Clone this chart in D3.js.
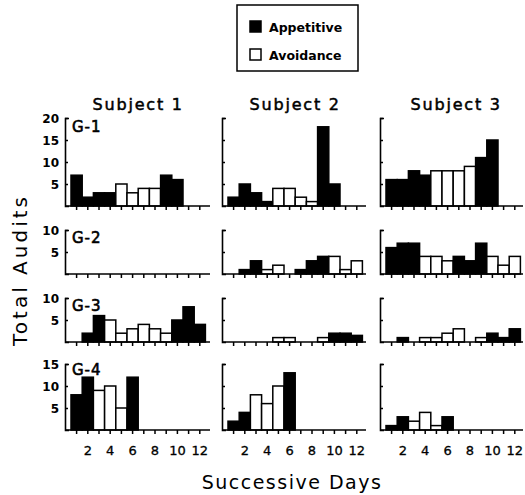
<!DOCTYPE html>
<html>
<head>
<meta charset="utf-8">
<script src="https://cdn.jsdelivr.net/npm/d3@7"></script>
<style>
  body { margin: 0; background: #fff; }
  text { font-family: "DejaVu Sans", sans-serif; fill: #000; }
</style>
</head>
<body>
<div id="chart"></div>
<script>
(function () {

    // categories
    const days = [1, 2, 3, 4, 5, 6, 7, 8, 9, 10, 11, 12];
    const subjects = ['Subject 1', 'Subject 2', 'Subject 3'];
    const groups = ['G-1', 'G-2', 'G-3', 'G-4'];
    const groupMax = [20, 10, 10, 15];
    const groupTicks = [[5, 10, 15, 20], [5, 10], [5, 10], [5, 10, 15]];
    const xTickLabels = [2, 4, 6, 8, 10, 12];

    // total audits per day, A = appetitive, V = avoidance, - = none
    const g1s1 = [7, 2, 3, 3, 5, 3, 4, 4, 7, 6, 0, 0];
    const g1s1Type = 'AAAAVVVVAA--';
    const g1s2 = [2, 5, 3, 1, 4, 4, 2, 1, 18, 5, 0, 0];
    const g1s2Type = 'AAAAVVVVAA--';
    const g1s3 = [6, 6, 8, 7, 8, 8, 8, 9, 11, 15, 0, 0];
    const g1s3Type = 'AAAAVVVVAA--';

    const g2s1 = [0, 0, 0, 0, 0, 0, 0, 0, 0, 0, 0, 0];
    const g2s1Type = '------------';
    const g2s2 = [0, 1, 3, 1, 2, 0, 1, 3, 4, 4, 1, 3];
    const g2s2Type = '-AAVV-AAAVVV';
    const g2s3 = [6, 7, 7, 4, 4, 3, 4, 3, 7, 4, 2, 4];
    const g2s3Type = 'AAAVVVAAAVVV';

    const g3s1 = [0, 2, 6, 5, 2, 3, 4, 3, 2, 5, 8, 4];
    const g3s1Type = '-AAVVVVVVAAA';
    const g3s2 = [0, 0, 0, 0, 1, 1, 0, 0, 1, 2, 2, 1.5];
    const g3s2Type = '----VV--VAAA';
    const g3s3 = [0, 1, 0, 1, 1, 2, 3, 0, 1, 2, 1, 3];
    const g3s3Type = '-A-VVVV-VAAA';

    const g4s1 = [8, 12, 9, 10, 5, 12, 0, 0, 0, 0, 0, 0];
    const g4s1Type = 'AAVVVA------';
    const g4s2 = [2, 4, 8, 6, 10, 13, 0, 0, 0, 0, 0, 0];
    const g4s2Type = 'AAVVVA------';
    const g4s3 = [1, 3, 2, 4, 1, 3, 0, 0, 0, 0, 0, 0];
    const g4s3Type = 'AAVVVA------';

    const panels = [
        [[g1s1, g1s1Type], [g1s2, g1s2Type], [g1s3, g1s3Type]],
        [[g2s1, g2s1Type], [g2s2, g2s2Type], [g2s3, g2s3Type]],
        [[g3s1, g3s1Type], [g3s2, g3s2Type], [g3s3, g3s3Type]],
        [[g4s1, g4s1Type], [g4s2, g4s2Type], [g4s3, g4s3Type]]
    ];

    // layout
    const colAxisX = [65, 222, 380];
    const colAxisEnd = [210, 366, 523];
    const rowBase = [206, 274, 342, 430];
    const labelDrop = [14, 13, 13, 11];
    const unit = 4.4;
    const dayW = 11.2;

    const svg = d3.select('#chart')
        .append('svg')
        .attr('width', 525)
        .attr('height', 495);

    // legend
    const legend = svg.append('g');
    legend.append('rect')
        .attr('x', 237).attr('y', 5)
        .attr('width', 121).attr('height', 66)
        .attr('fill', 'none').attr('stroke', '#000').attr('stroke-width', 1.5);
    [['Appetitive', '#000', 27], ['Avoidance', '#fff', 55]].forEach(l => {
        legend.append('rect')
            .attr('x', 250).attr('y', l[2] - 6)
            .attr('width', 11).attr('height', 11)
            .attr('fill', l[1]).attr('stroke', '#000').attr('stroke-width', 1.5);
        legend.append('text')
            .attr('x', 269).attr('y', l[2] + 5)
            .style('font-size', '12.5px').style('font-weight', 'bold')
            .text(l[0]);
    });

    // subject titles
    svg.selectAll('.subj')
        .data(subjects)
        .enter()
        .append('text')
        .attr('class', 'subj')
        .attr('x', (d, i) => colAxisX[i] + 6 + dayW * 6 + (i === 2 ? 3 : 0))
        .attr('y', 110)
        .attr('text-anchor', 'middle')
        .style('font-size', '16px')
        .style('letter-spacing', '1.8px')
        .attr('stroke', '#000').attr('stroke-width', 0.5)
        .text(d => d);

    // axis titles
    svg.append('text')
        .attr('transform', 'translate(27, 270) rotate(-90)')
        .attr('text-anchor', 'middle')
        .style('font-size', '20px')
        .style('letter-spacing', '3px')
        .text('Total Audits');

    svg.append('text')
        .attr('x', 292).attr('y', 489)
        .attr('text-anchor', 'middle')
        .style('font-size', '19px')
        .style('letter-spacing', '1.5px')
        .text('Successive Days');

    groups.forEach((gName, r) => {
        const base = rowBase[r];
        const y = d3.scaleLinear()
            .domain([0, groupMax[r]])
            .range([base, base - groupMax[r] * unit]);

        subjects.forEach((s, c) => {
            const vals = panels[r][c][0];
            const types = panels[r][c][1];
            const x = d3.scaleBand()
                .domain(days)
                .range([colAxisX[c] + 6, colAxisX[c] + 6 + dayW * 12])
                .paddingInner(0).paddingOuter(0);

            const g = svg.append('g');

            // bars
            g.selectAll('rect')
                .data(days.filter((d, i) => vals[i] > 0))
                .enter()
                .append('rect')
                .attr('x', d => x(d))
                .attr('y', d => y(vals[d - 1]))
                .attr('width', x.bandwidth())
                .attr('height', d => base - y(vals[d - 1]))
                .attr('fill', d => types[d - 1] === 'A' ? '#000' : '#fff')
                .attr('stroke', '#000')
                .attr('stroke-width', 1.5);

            // baseline
            g.append('line')
                .attr('x1', colAxisX[c]).attr('x2', colAxisEnd[c])
                .attr('y1', base).attr('y2', base)
                .attr('stroke', '#000').attr('stroke-width', 1.6);

            // x ticks
            const xAxis = g.append('g')
                .attr('transform', `translate(0, ${base})`)
                .call(d3.axisBottom(x)
                    .tickSizeInner(4).tickSizeOuter(0).tickPadding(12)
                    .tickFormat(d => (r === 3 && xTickLabels.includes(d)) ? d : ''));
            xAxis.select('.domain').remove();
            xAxis.selectAll('line').attr('stroke-width', 1.5);
            xAxis.selectAll('text')
                .style('font-family', '"DejaVu Sans", sans-serif')
                .style('font-size', '13px')
                .attr('stroke', '#000').attr('stroke-width', 0.3);

            // y axis with bracket top
            const yAxis = g.append('g')
                .attr('transform', `translate(${colAxisX[c]}, 0)`)
                .call(d3.axisLeft(y)
                    .tickValues(groupTicks[r])
                    .tickSizeInner(-3).tickSizeOuter(-4).tickPadding(6)
                    .tickFormat(d => c === 0 ? d : ''));
            yAxis.select('.domain').attr('stroke-width', 1.6);
            yAxis.selectAll('line').attr('stroke-width', 1.5);
            yAxis.selectAll('text')
                .style('font-family', '"DejaVu Sans", sans-serif')
                .style('font-size', '12px')
                .style('font-weight', 'bold')
                .attr('dy', '0.4em');

            if (c === 0) {
                g.append('text')
                    .attr('x', colAxisX[c] + 7)
                    .attr('y', y(groupMax[r]) + labelDrop[r])
                    .style('font-size', '15px')
                    .attr('stroke', '#000').attr('stroke-width', 0.6)
                    .style('letter-spacing', '1px')
                    .text(gName);
            }
        });
    });

})();
</script>
</body>
</html>
